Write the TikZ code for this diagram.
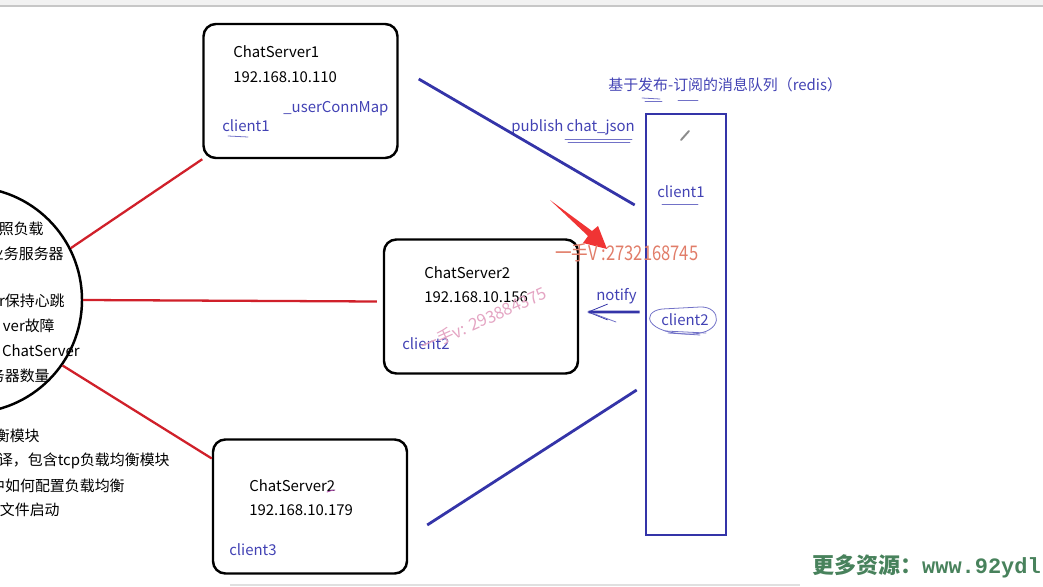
\documentclass[tikz,border=0pt]{standalone}
\usepackage{fontspec}
\setmainfont{Noto Sans CJK SC}
\newfontfamily\resmono{Liberation Mono}
\usetikzlibrary{arrows.meta, positioning, shapes.geometric}

\definecolor{busblue}{RGB}{52,52,168}
\definecolor{txtblue}{RGB}{66,66,180}
\definecolor{lbred}{RGB}{208,32,42}
\definecolor{markred}{RGB}{225,125,105}
\definecolor{markpink}{RGB}{228,165,195}
\definecolor{pointred}{RGB}{240,52,52}
\definecolor{resgreen}{RGB}{72,130,92}

\tikzset{
  srvbox/.style={draw, line width=1.4pt, rounded corners=7pt, minimum width={194*0.02cm}, minimum height={134*0.02cm}},
  mqbox/.style={draw=busblue, line width=1.5pt, minimum width={80*0.02cm}, minimum height={421*0.02cm}},
  lbcirc/.style={draw, circle, line width=1.4pt, minimum size={226*0.02cm}},
  lbline/.style={draw=lbred, line width=1.3pt},
  bus/.style={draw=busblue, line width=1.6pt},
  cltxt/.style={text=txtblue},
  scribble/.style={draw=txtblue!75, line width=0.45pt, line cap=round}
}

\begin{document}
\begin{tikzpicture}[x=0.02cm, y=-0.02cm, every node/.style={font=\fontsize{8.5}{10}\selectfont, inner sep=0pt}]
  \useasboundingbox (0,0) rectangle (1043,587);
  \clip (0,0) rectangle (1043,587);
  \fill[black!5] (0,0) rectangle (1043,6);
  \draw[black!22, line width=0.8pt] (0,6) -- (1043,6);
  \draw[black!12, line width=0.6pt] (230,585) -- (800,585);

  \node[lbcirc] (lb) at (-31,300) {};
  \foreach \x/\y/\t [count=\i] in {44/229/照负载, 64/254/业务服务器, 65/301/r保持心跳, 55/326/ver故障,
      80/351/ChatServer, 50/376/务器数量, 40/436/衡模块, 170/461/译，包含tcp负载均衡模块,
      125/486/中如何配置负载均衡, 60/510/文件启动}
    \node[anchor=east] (lbtxt\i) at (\x,\y) {\t};

  \node[srvbox] (cs1) at (300.5,91) {};
  \node[srvbox] (cs2) at (481,306.5) {};
  \node[srvbox] (cs3) at (310,506.5) {};
  \node[mqbox] (mq) at (686,324.5) {};

  \node[anchor=west] (cs1name) at (233,52) {ChatServer1};
  \node[anchor=west] (cs1ip) at (233,77) {192.168.10.110};
  \node[cltxt, anchor=west] (cs1map) at (283,109) {\_userConnMap};
  \node[cltxt, anchor=west] (cs1cl) at (222,126) {client1};
  \node[anchor=west] (cs2name) at (424,273) {ChatServer2};
  \node[anchor=west] (cs2ip) at (424,297) {192.168.10.156};
  \node[cltxt, anchor=west] (cs2cl) at (402,344) {client2};
  \node[anchor=west] (cs3name) at (249,486) {ChatServer2};
  \node[anchor=west] (cs3ip) at (249,510) {192.168.10.179};
  \node[cltxt, anchor=west] (cs3cl) at (229,550) {client3};

  \node[cltxt, anchor=west] (mqtitle) at (608,85) {基于发布-订阅的消息队列（redis）};
  \node[cltxt, anchor=west] (mqcl1) at (657,192) {client1};
  \node[cltxt, anchor=west] (mqcl2) at (661,320) {client2};
  \node[cltxt, anchor=west] (pub) at (511,127) {publish chat\_json};
  \node[cltxt, anchor=west] (ntf) at (596,296) {notify};

  \draw[lbline] (lb.27) -- (cs1.south west);
  \draw[lbline] (lb.0) -- ([shift={(-6,-5)}]cs2.west);
  \draw[lbline] (lb.-35) -- ([shift={(0,-48)}]cs3.west);

  \draw[bus] ([shift={(20,-12)}]cs1.east) -- ([shift={(-10,-119.5)}]mq.west);
  \draw[bus] ([shift={(19,18.5)}]cs3.east) -- ([shift={(-8,65.5)}]mq.west);
  \draw[bus, -{Straight Barb[line width=0.45pt, length=11pt, width=9pt]}] ([shift={(-5,-12.5)}]mq.west) -- ([shift={(8,5.5)}]cs2.east);
  \draw[scribble] (592,313) -- (616,322);

  \draw[scribble] (228,136) -- (248,137);
  \draw[scribble] (565,139) -- (632,139);
  \draw[scribble] (568,142) -- (630,142);
  \draw[scribble] (642,98) -- (660,99);
  \draw[scribble] (645,101) -- (662,101);
  \draw[scribble] (678,100) -- (698,100);
  \draw[scribble] (662,204) -- (698,204);
  \draw[scribble] (662,309) .. controls (640,312) and (646,334) .. (690,334) .. controls (725,334) and (722,306) .. (700,307) -- (662,309);
  \draw[scribble] (665,331) -- (706,333);
  \draw[scribble] (668,333) -- (700,335);
  \draw[draw=black!45, line width=1.1pt, line cap=round] (681,140) -- (689,131);
  \draw[draw=violet!70, line width=0.5pt, line cap=round] (327,492) .. controls (330,490) and (332,491) .. (335,490);

  \fill[pointred] (550,200) -- (592,231) -- (598,226) -- (607,249) -- (583,243) -- (588,236) -- cycle;
  \node[anchor=west, text=markred, font=\fontsize{11.5}{13}\selectfont, xscale=0.82] (wm1) at (555,253) {一手V :2732168745};
  \node[anchor=west, text=markpink, font=\fontsize{9.5}{11}\selectfont, rotate=24] (wm2) at (422,347) {一手v: 293884375};
  \node[anchor=west, text=resgreen, font=\fontsize{12.5}{14}\selectfont\bfseries] (res) at (812,566) {更多资源：{\resmono www.92ydl}};
\end{tikzpicture}
\end{document}
